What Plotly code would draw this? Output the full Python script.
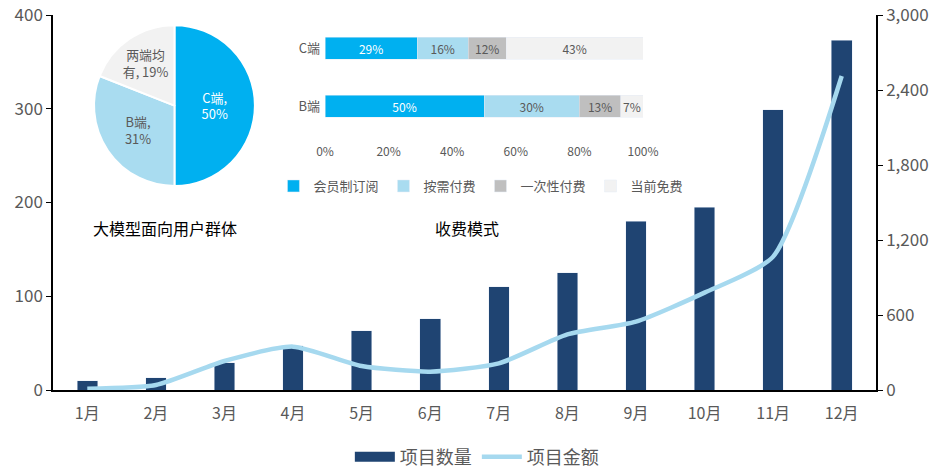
import plotly.graph_objects as go

# main chart data
months = ["1月", "2月", "3月", "4月", "5月", "6月", "7月", "8月", "9月", "10月", "11月", "12月"]
project_count = [10, 13, 29, 47, 63, 76, 110, 125, 180, 195, 299, 373]
project_amount = [10, 40, 232, 347, 192, 147, 213, 445, 547, 779, 1067, 2512]

# pie inset: 大模型面向用户群体
pie_labels = ["C端", "B端", "两端均有"]
pie_values = [50, 31, 19]
pie_text = ["C端,<br>50%", "B端,<br>31%", "两端均<br>有, 19%"]

# stacked bar inset: 收费模式
fee_groups = ["B端", "C端"]
fee_types = ["会员制订阅", "按需付费", "一次性付费", "当前免费"]
fee_b = [50, 30, 13, 7]
fee_c = [29, 16, 12, 43]

FONT = "Noto Sans CJK SC"
GREY = "#595959"
NAVY = "#1F4472"
LIGHT = "#A6D9EF"
fee_colors = ["#00B0F0", "#A9DCF0", "#BFBFBF", "#F2F2F2"]
fee_text_colors = ["white", GREY, GREY, GREY]

fig = go.Figure()

fig.add_trace(go.Bar(x=months, y=project_count, width=0.3, marker_color=NAVY,
                     name="项目数量", showlegend=False))
# legend proxy so the swatch is a wide bar like the original
fig.add_trace(go.Scatter(x=[None], y=[None], mode="lines", name="项目数量",
                         line=dict(color=NAVY, width=12)))
fig.add_trace(go.Scatter(x=months, y=project_amount, yaxis="y2", mode="lines",
                         line=dict(color=LIGHT, width=4.5, shape="spline", smoothing=0.6),
                         name="项目金额"))

fig.add_trace(go.Pie(labels=pie_labels, values=pie_values, text=pie_text,
                     textinfo="text", textposition="inside", sort=False,
                     direction="clockwise", rotation=0,
                     marker=dict(colors=["#00B0F0", "#A9DCF0", "#F2F2F2"],
                                 line=dict(color="white", width=2)),
                     textfont=dict(color=["white", GREY, GREY], size=13, family=FONT),
                     insidetextorientation="horizontal", showlegend=False,
                     domain=dict(x=[0.0498, 0.2454], y=[0.544, 0.973])))

for i, t in enumerate(fee_types):
    vals = [fee_b[i] / 100, fee_c[i] / 100]
    fig.add_trace(go.Bar(y=fee_groups, x=vals, orientation="h", xaxis="x2", yaxis="y3",
                         width=0.38, name=t, legend="legend2",
                         marker=dict(color=fee_colors[i]),
                         text=[f"{v}%" for v in (fee_b[i], fee_c[i])],
                         textposition="inside", insidetextanchor="middle",
                         textfont=dict(color=fee_text_colors[i], size=12, family=FONT)))

fig.update_layout(
    width=939, height=468,
    margin=dict(l=53, r=63, t=15, b=78, autoexpand=False),
    paper_bgcolor="white", plot_bgcolor="white",
    font=dict(family=FONT, color=GREY),
    barmode="stack",
    uniformtext=dict(minsize=12, mode="show"),
    xaxis=dict(type="category", showline=True, linecolor="black", linewidth=1.5,
               ticks="", ticklabelstandoff=8, tickfont=dict(size=16, color=GREY),
               showgrid=False),
    yaxis=dict(range=[0, 400], dtick=100, showline=True, linecolor="black", linewidth=1.5,
               ticks="outside", ticklen=5, tickcolor="black", showgrid=False,
               zeroline=False, tickfont=dict(size=17, color=GREY)),
    yaxis2=dict(range=[0, 3000], dtick=600, overlaying="y", side="right", showline=True,
                linecolor="black", linewidth=1.5, ticks="outside", ticklen=5,
                tickcolor="black", showgrid=False, zeroline=False, tickformat=",",
                tickfont=dict(size=17, color=GREY)),
    xaxis2=dict(domain=[0.3305, 0.7169], anchor="y3", range=[0, 1], dtick=0.2,
                tickformat=".0%", showgrid=False, zeroline=False, showline=False,
                ticklabelstandoff=8, tickfont=dict(size=12, color=GREY)),
    yaxis3=dict(domain=[0.68, 0.989], anchor="x2", type="category",
                categoryorder="array", categoryarray=fee_groups, showgrid=False,
                showline=False, ticklabelstandoff=4, tickfont=dict(size=13, color=GREY)),
    legend=dict(orientation="h", xref="paper", yref="paper", x=0.515, y=-0.179,
                xanchor="center", yanchor="middle", font=dict(size=18, color=GREY),
                traceorder="normal", itemwidth=40),
    legend2=dict(orientation="h", xref="paper", yref="paper", x=0.52, y=0.544,
                 xanchor="center", yanchor="middle", font=dict(size=13, color=GREY),
                 traceorder="normal", itemwidth=30, bgcolor="rgba(0,0,0,0)"),
    annotations=[
        dict(text="大模型面向用户群体", xref="paper", yref="paper", x=0.136, y=0.432,
             xanchor="center", yanchor="middle", showarrow=False,
             font=dict(size=16, color="black", family=FONT)),
        dict(text="收费模式", xref="paper", yref="paper", x=0.503, y=0.432,
             xanchor="center", yanchor="middle", showarrow=False,
             font=dict(size=16, color="black", family=FONT)),
    ],
)

# drop the default page margin so the figure sits at the window's corner
fig.write_html("out.html", config={"displayModeBar": False},
               post_script="document.body.style.margin='0';")
